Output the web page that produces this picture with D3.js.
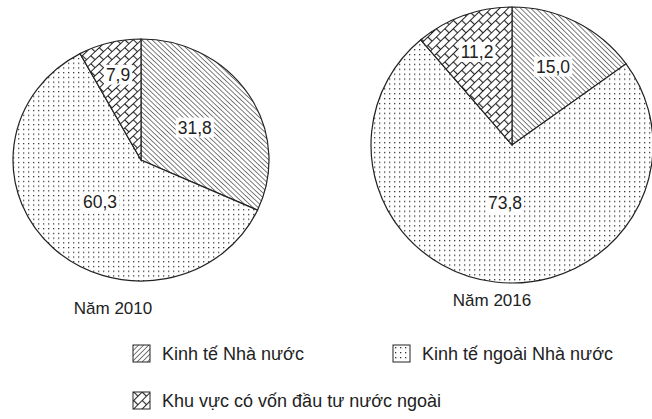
<!DOCTYPE html>
<html>
<head>
<meta charset="utf-8">
<script src="https://cdn.jsdelivr.net/npm/d3@7"></script>
<style>
  body { margin: 0; background: #fff; }
  svg { display: block; }
  text { font-family: Arial, "Liberation Sans", sans-serif; fill: #222; }
</style>
</head>
<body>
<svg width="652" height="419"></svg>
<script>
// categories and values
var categories = ["Kinh tế Nhà nước", "Kinh tế ngoài Nhà nước", "Khu vực có vốn đầu tư nước ngoài"];
var years = ["Năm 2010", "Năm 2016"];
var values2010 = [31.8, 60.3, 7.9];
var values2016 = [15.0, 73.8, 11.2];
var labels2010 = ["31,8", "60,3", "7,9"];
var labels2016 = ["15,0", "73,8", "11,2"];

// layout of the two pies (centre + radii)
var pies = [
  { title: years[0], values: values2010, labels: labels2010, cx: 141, cy: 160, rx: 128, ry: 121, titleX: 113, titleY: 314, labelR: [0.5, 0.47, 0.73] },
  { title: years[1], values: values2016, labels: labels2016, cx: 512, cy: 145, rx: 141, ry: 138, titleX: 492, titleY: 306, labelR: [0.64, 0.42, 0.72] }
];

var svg = d3.select("svg");
var defs = svg.append("defs");

//////////// PATTERNS ////////////

// hatched lines for state sector
var pHatch = defs.append("pattern")
  .attr("id", "hatch")
  .attr("patternUnits", "userSpaceOnUse")
  .attr("width", 3.6).attr("height", 3.6)
  .attr("patternTransform", "rotate(-45)");
pHatch.append("rect").attr("width", 3.6).attr("height", 3.6).attr("fill", "#fff");
pHatch.append("line").attr("x1", 0).attr("y1", 0).attr("x2", 0).attr("y2", 3.6)
  .attr("stroke", "#222").attr("stroke-width", 1.2);

// same hatch, other way, for the legend key
var pHatchKey = defs.append("pattern")
  .attr("id", "hatchKey")
  .attr("patternUnits", "userSpaceOnUse")
  .attr("width", 3.6).attr("height", 3.6)
  .attr("patternTransform", "rotate(45)");
pHatchKey.append("rect").attr("width", 3.6).attr("height", 3.6).attr("fill", "#fff");
pHatchKey.append("line").attr("x1", 0).attr("y1", 0).attr("x2", 0).attr("y2", 3.6)
  .attr("stroke", "#222").attr("stroke-width", 1.2);

// dots for non-state sector
var pDots = defs.append("pattern")
  .attr("id", "dots")
  .attr("patternUnits", "userSpaceOnUse")
  .attr("width", 5).attr("height", 5);
pDots.append("rect").attr("width", 5).attr("height", 5).attr("fill", "#fff");
pDots.append("rect").attr("x", 2).attr("y", 2).attr("width", 1.3).attr("height", 1.3).attr("fill", "#333");

// diagonal bricks for FDI
var pBrick = defs.append("pattern")
  .attr("id", "brick")
  .attr("patternUnits", "userSpaceOnUse")
  .attr("width", 12).attr("height", 12)
  .attr("patternTransform", "rotate(-45)");
pBrick.append("rect").attr("width", 12).attr("height", 12).attr("fill", "#fff");
pBrick.append("path")
  .attr("d", "M0,0.5H12M0,6.5H12M0.5,0V6.5M6.5,6.5V12")
  .attr("stroke", "#222").attr("stroke-width", 1.2).attr("fill", "none");

var fills = ["url(#hatch)", "url(#dots)", "url(#brick)"];
var keyFills = ["url(#hatchKey)", "url(#dots)", "url(#brick)"];

//////////// PIES ////////////

var pie = d3.pie().sort(null).value(function (d) { return d; });

pies.forEach(function (p) {
  var arcs = pie(p.values);
  var arc = d3.arc().innerRadius(0).outerRadius(p.rx);

  var g = svg.append("g")
    .attr("transform", "translate(" + p.cx + "," + p.cy + ")");

  var shapes = g.append("g")
    .attr("transform", "scale(1," + (p.ry / p.rx) + ")");

  shapes.selectAll("path")
    .data(arcs)
    .enter().append("path")
    .attr("d", arc)
    .attr("fill", function (d, i) { return fills[i]; })
    .attr("stroke", "#222")
    .attr("stroke-width", 1.2)
    .attr("vector-effect", "non-scaling-stroke");

  // value labels with white box
  var lab = g.selectAll("g.lab")
    .data(arcs)
    .enter().append("g")
    .attr("class", "lab")
    .attr("transform", function (d, i) {
      var a = (d.startAngle + d.endAngle) / 2;
      var r = p.labelR[i];
      return "translate(" + (Math.sin(a) * p.rx * r) + "," + (-Math.cos(a) * p.ry * r) + ")";
    });

  lab.append("text")
    .attr("text-anchor", "middle")
    .attr("dy", "0.36em")
    .style("font-size", "17.5px")
    .text(function (d, i) { return p.labels[i]; });

  lab.each(function () {
    var t = d3.select(this).select("text");
    var b = t.node().getBBox();
    d3.select(this).insert("rect", "text")
      .attr("x", b.x - 2).attr("y", b.y)
      .attr("width", b.width + 4).attr("height", b.height)
      .attr("fill", "#fff");
  });

  svg.append("text")
    .attr("x", p.titleX).attr("y", p.titleY)
    .attr("text-anchor", "middle")
    .style("font-size", "17px")
    .text(p.title);
});

//////////// LEGEND ////////////

var legendPos = [
  { x: 133, y: 345 },
  { x: 393, y: 345 },
  { x: 133, y: 392 }
];

var legend = svg.selectAll("g.legend")
  .data(categories)
  .enter().append("g")
  .attr("class", "legend")
  .attr("transform", function (d, i) { return "translate(" + legendPos[i].x + "," + legendPos[i].y + ")"; });

legend.append("rect")
  .attr("width", 17).attr("height", 17)
  .attr("fill", function (d, i) { return keyFills[i]; })
  .attr("stroke", "#222").attr("stroke-width", 1);

legend.append("text")
  .attr("x", 29).attr("y", 15)
  .style("font-size", "18px")
  .text(function (d) { return d; });
</script>
</body>
</html>
